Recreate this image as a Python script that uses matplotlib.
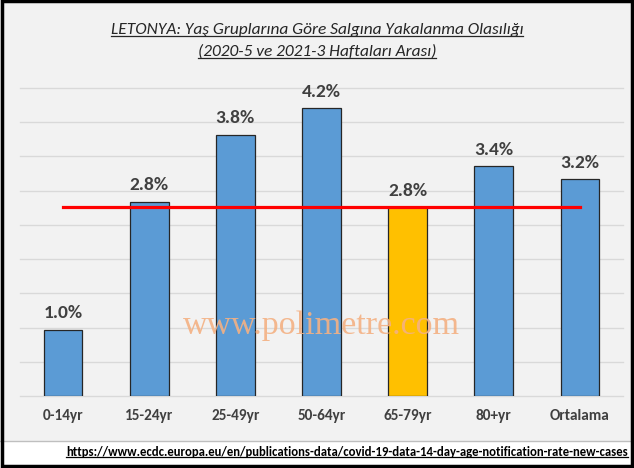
import matplotlib.pyplot as plt
from matplotlib.lines import Line2D
from matplotlib.patches import Rectangle

categories = ["0-14yr", "15-24yr", "25-49yr", "50-64yr", "65-79yr", "80+yr", "Ortalama"]
values = [0.97, 2.84, 3.82, 4.21, 2.76, 3.36, 3.17]
highlight = "65-79yr"
title_lines = [
    "LETONYA: Yaş Gruplarına Göre Salgına Yakalanma Olasılığı",
    "(2020-5 ve 2021-3 Haftaları Arası)",
]
source_url = "https://www.ecdc.europa.eu/en/publications-data/covid-19-data-14-day-age-notification-rate-new-cases"
watermark = "www.polimetre.com"

# Carlito is metric-compatible with Calibri
plt.rcParams["font.family"] = ["Carlito", "DejaVu Sans"]

W, H = 634, 468
fig = plt.figure(figsize=(W / 100, H / 100), dpi=100, facecolor="#F2F2F2")

# white source strip at the bottom
fig.add_artist(Rectangle((0, 0), 1, (H - 441) / H, transform=fig.transFigure,
                         facecolor="white", edgecolor="none", zorder=0))
fig.add_artist(Line2D([0, 1], [(H - 441) / H] * 2, transform=fig.transFigure,
                      color="#BFBFBF", lw=1))

ax = fig.add_axes([20 / W, 1 - 396 / H, 603 / W, (396 - 88) / H])
ax.set_facecolor("#F2F2F2")

x = range(len(categories))
colors = ["#FFC000" if c == highlight else "#5B9BD5" for c in categories]
ax.bar(x, values, width=0.45, color=colors, edgecolor="#262626", linewidth=0.9, zorder=3)

for xi, v in zip(x, values):
    ax.text(xi, v + 0.12, f"{v:.1f}%", ha="center", va="bottom", fontsize=14,
            fontweight="bold", color="#404040", zorder=4)

# reference line at the highlighted group's value
ref = values[categories.index(highlight)]
ax.plot([0, len(categories) - 1], [ref, ref], color="#FF0000", lw=2.3, zorder=5)

ax.set_xlim(-0.5, len(categories) - 0.5)
ax.set_ylim(0, 4.5)
ax.set_yticks([i * 0.5 for i in range(10)])
ax.yaxis.grid(True, color="#D9D9D9", lw=1.0)
for gl in ax.yaxis.get_gridlines():
    gl.set_clip_on(False)
ax.set_axisbelow(True)
ax.tick_params(left=False, labelleft=False, bottom=False)
ax.set_xticks(list(x))
ax.set_xticklabels(categories, fontsize=11, fontweight="bold", color="#404040")
ax.tick_params(axis="x", pad=6)
for s in ax.spines.values():
    s.set_visible(False)

ax.text(0.5, 0.2, watermark, transform=ax.transAxes, ha="center", va="baseline",
        fontsize=24.5, family="Liberation Serif", color="#F4B183", alpha=0.9, zorder=6)

# titles and source, underlined by hand
title_texts = [
    fig.text(0.5, 1 - 30 / H, title_lines[0], ha="center", va="center",
             fontsize=12.5, style="italic", color="#262626"),
    fig.text(0.5, 1 - 52 / H, title_lines[1], ha="center", va="center",
             fontsize=12.5, style="italic", color="#262626"),
]
src = fig.text(628 / W, 1 - 452 / H, source_url, ha="right", va="center",
               fontsize=9.2, fontweight="bold", color="black")

fig.canvas.draw()
renderer = fig.canvas.get_renderer()
for t, color in [(title_texts[0], "#262626"), (title_texts[1], "#262626"), (src, "black")]:
    bb = t.get_window_extent(renderer).transformed(fig.transFigure.inverted())
    y = bb.y0 + 1.5 / H
    fig.add_artist(Line2D([bb.x0, bb.x1], [y, y], transform=fig.transFigure,
                          color=color, lw=0.9))

# outer border
fig.add_artist(Rectangle((0.003, 0.004), 0.994, 0.993, transform=fig.transFigure,
                         facecolor="none", edgecolor="black", lw=2.5, zorder=10))

fig.savefig("out.png", dpi=100, facecolor=fig.get_facecolor())
